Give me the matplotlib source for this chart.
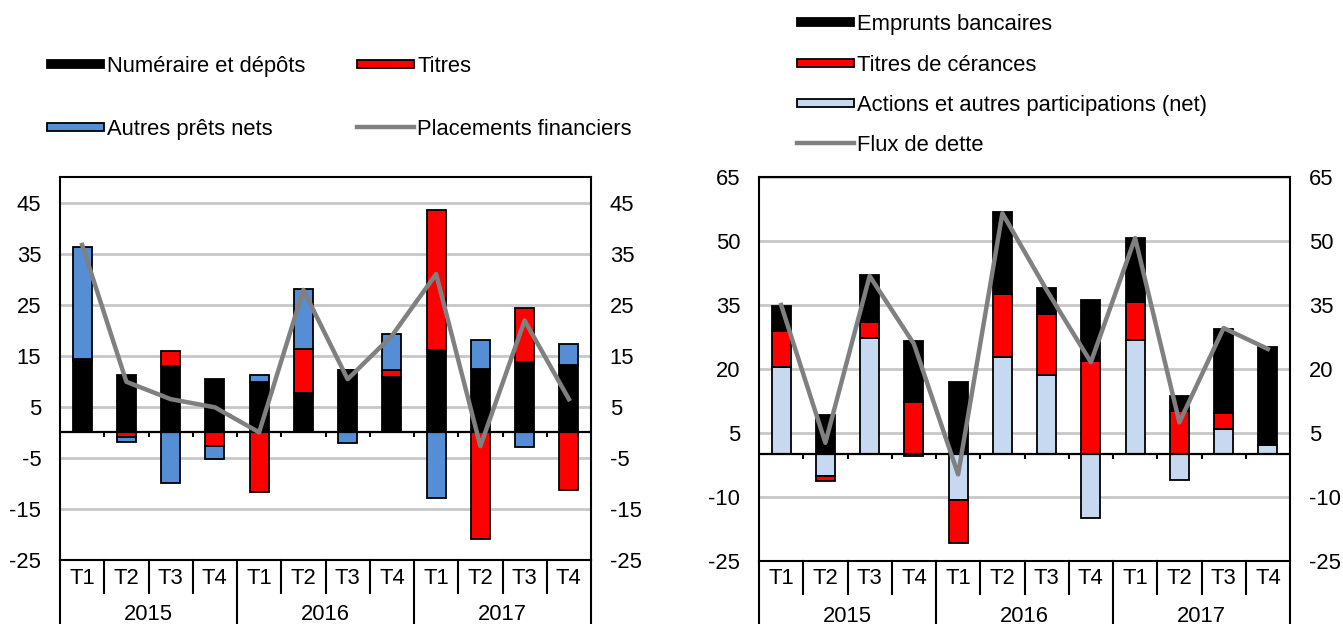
import matplotlib
matplotlib.use('Agg')
import matplotlib.pyplot as plt
from matplotlib.patches import Rectangle
from matplotlib.lines import Line2D
import matplotlib.transforms as mtrans
import numpy as np

plt.rcParams['font.family'] = ['Liberation Sans', 'DejaVu Sans']

# ---------------- data ----------------
quarters = ['T1', 'T2', 'T3', 'T4'] * 3
years = ['2015', '2016', '2017']

# Left chart
numeraire = [13.9, 11.3, 12.9, 10.4, 9.8, 7.7, 12.2, 10.9, 16.1, 12.4, 13.7, 13.2]
titres = [0.5, -1.0, 3.1, -2.7, -11.7, 8.6, 0.0, 1.3, 27.4, -20.8, 10.7, -11.2]
autres_prets = [21.9, -0.9, -10.0, -2.5, 1.4, 11.7, -2.1, 7.0, -12.8, 5.6, -2.9, 4.1]
placements = [36.7, 9.9, 6.5, 4.9, 0.0, 27.9, 10.4, 18.9, 31.0, -2.7, 21.9, 6.5]

# Right chart
actions = [20.5, -5.1, 27.3, -0.3, -10.6, 22.9, 18.6, -14.9, 26.8, -5.9, 6.0, 2.2]
titres_creances = [8.5, -1.2, 3.7, 12.2, -10.2, 14.7, 14.3, 21.8, 8.9, 10.2, 3.8, 0.0]
emprunts = [5.7, 9.2, 11.0, 14.3, 16.9, 19.3, 6.2, 14.3, 14.9, 3.4, 19.6, 22.9]
flux_dette = [35.0, 2.7, 41.8, 25.9, -4.7, 56.5, 38.5, 21.6, 50.7, 7.5, 29.6, 24.7]

left_ticks = [-25, -15, -5, 5, 15, 25, 35, 45]
right_ticks = [-25, -10, 5, 20, 35, 50, 65]

# ---------------- styles ----------------
BLACK = '#000000'
RED = '#FF0000'
BLUE = '#558ED5'
LBLUE = '#C6D9F1'
GRAY = '#808080'
GRID = '#C8C8C8'
FS = 15.8

W, H = 1343, 624
fig = plt.figure(figsize=(W / 100, H / 100), dpi=100)


def fx(px):
    return px / W


def fy(py):
    return 1 - py / H


def make_axes(x0, x1, y0, y1):
    return fig.add_axes([fx(x0), fy(y1), (x1 - x0) / W, (y1 - y0) / H])


def stack(ax, series, colors):
    x = np.arange(len(series[0]))
    pos = np.zeros(len(x))
    neg = np.zeros(len(x))
    for vals, c in zip(series, colors):
        v = np.array(vals, dtype=float)
        bottom = np.where(v >= 0, pos, neg)
        ax.bar(x, v, bottom=bottom, width=0.43, color=c, edgecolor='black',
               linewidth=1.3, zorder=3)
        pos += np.where(v >= 0, v, 0)
        neg += np.where(v < 0, v, 0)


def style_axes(ax, ylim, ticks, ax_px):
    x0, x1, y0, y1 = ax_px
    ax.set_xlim(-0.5, 11.5)
    ax.set_ylim(*ylim)
    ax.set_yticks(ticks)
    ax.set_yticklabels([str(t) for t in ticks])
    ax.set_xticks([])
    ax.tick_params(axis='y', length=0, pad=13.5, labelsize=FS,
                   labelleft=True, labelright=True)
    ax.grid(axis='y', color=GRID, linewidth=2, zorder=0)
    ax.set_axisbelow(True)
    for s in ax.spines.values():
        s.set_linewidth(1.5)
        s.set_color('black')
    ax.axhline(0, color='black', linewidth=1.6, zorder=4)
    # small tick marks on the zero line at category boundaries
    tick_len = 5 * (ylim[1] - ylim[0]) / (y1 - y0)
    ax.vlines(np.arange(0.5, 11.5, 1.0), 0, -tick_len, color='black',
              linewidth=1.5, zorder=4)
    # category table below the plot
    tr = mtrans.blended_transform_factory(ax.transData, fig.transFigure)
    for k in range(13):
        xb = k - 0.5
        yend = fy(H + 2) if k % 4 == 0 else fy(y1 + 33)
        fig.add_artist(Line2D([xb, xb], [fy(y1), yend], transform=tr,
                              color='black', linewidth=1.5, clip_on=False))
    for i, q in enumerate(quarters):
        fig.text(i, fy(y1 + 18), q, transform=tr, ha='center', va='center',
                 fontsize=FS)
    for j, yr in enumerate(years):
        fig.text(4 * j + 1.5, fy(y1 + 55), yr, transform=tr, ha='center',
                 va='center', fontsize=FS)


# ---------------- left chart ----------------
L = (60, 591, 177, 560)
axL = make_axes(*L)
stack(axL, [numeraire, titres, autres_prets], [BLACK, RED, BLUE])
axL.plot(np.arange(12), placements, color=GRAY, linewidth=3.2, zorder=5)
style_axes(axL, (-25, 50), left_ticks, L)

# ---------------- right chart ----------------
R = (759, 1290, 177, 561)
axR = make_axes(*R)
stack(axR, [actions, titres_creances, emprunts], [LBLUE, RED, BLACK])
axR.plot(np.arange(12), flux_dette, color=GRAY, linewidth=3.2, zorder=5)
style_axes(axR, (-25, 65), right_ticks, R)


# ---------------- legends ----------------
def legend_patch(xp, yc, color, label, kind='bar'):
    w, h = 57, 8
    if kind == 'bar':
        fig.add_artist(Rectangle((fx(xp), fy(yc + h / 2)), w / W, h / H,
                                 transform=fig.transFigure, facecolor=color,
                                 edgecolor='black', linewidth=1.3))
    else:
        fig.add_artist(Line2D([fx(xp), fx(xp + w)], [fy(yc), fy(yc)],
                              transform=fig.transFigure, color=color,
                              linewidth=3.2))
    fig.text(fx(xp + w + 3), fy(yc), label, ha='left', va='center_baseline',
             fontsize=FS)


legend_patch(47, 64, BLACK, 'Numéraire et dépôts')
legend_patch(357, 64, RED, 'Titres')
legend_patch(47, 127, BLUE, 'Autres prêts nets')
legend_patch(357, 127, GRAY, 'Placements financiers', kind='line')

legend_patch(797, 22, BLACK, 'Emprunts bancaires')
legend_patch(797, 63, RED, 'Titres de cérances')
legend_patch(797, 103, LBLUE, 'Actions et autres participations (net)')
legend_patch(797, 143, GRAY, 'Flux de dette', kind='line')

fig.savefig('out.png', dpi=100)
